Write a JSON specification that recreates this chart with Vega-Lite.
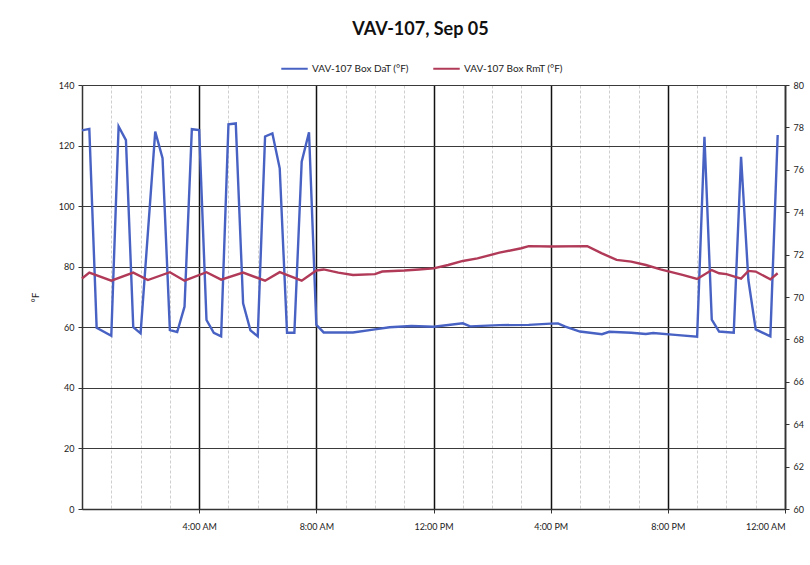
{
  "$schema": "https://vega.github.io/schema/vega-lite/v6.json",
  "autosize": "none",
  "width": 703,
  "height": 424,
  "padding": {"left": 82, "top": 85, "right": 25, "bottom": 56},
  "background": "white",
  "title": {
    "text": "VAV-107, Sep 05",
    "font": "Lato",
    "fontSize": 18,
    "fontWeight": "bold",
    "color": "#111",
    "anchor": "middle",
    "frame": "group",
    "dx": -13,
    "offset": 15
  },
  "datasets": {
    "dat": [
      {"time": "2012-09-05T00:00", "series": "VAV-107 Box DaT (°F)", "value": 125},
      {"time": "2012-09-05T00:15", "series": "VAV-107 Box DaT (°F)", "value": 125.5},
      {"time": "2012-09-05T00:30", "series": "VAV-107 Box DaT (°F)", "value": 59.8},
      {"time": "2012-09-05T01:00", "series": "VAV-107 Box DaT (°F)", "value": 57.2},
      {"time": "2012-09-05T01:15", "series": "VAV-107 Box DaT (°F)", "value": 126.3},
      {"time": "2012-09-05T01:30", "series": "VAV-107 Box DaT (°F)", "value": 121.8},
      {"time": "2012-09-05T01:45", "series": "VAV-107 Box DaT (°F)", "value": 60},
      {"time": "2012-09-05T02:00", "series": "VAV-107 Box DaT (°F)", "value": 58},
      {"time": "2012-09-05T02:30", "series": "VAV-107 Box DaT (°F)", "value": 124.6},
      {"time": "2012-09-05T02:45", "series": "VAV-107 Box DaT (°F)", "value": 115.8},
      {"time": "2012-09-05T03:00", "series": "VAV-107 Box DaT (°F)", "value": 59.1},
      {"time": "2012-09-05T03:15", "series": "VAV-107 Box DaT (°F)", "value": 58.4},
      {"time": "2012-09-05T03:30", "series": "VAV-107 Box DaT (°F)", "value": 66.8},
      {"time": "2012-09-05T03:45", "series": "VAV-107 Box DaT (°F)", "value": 125.4},
      {"time": "2012-09-05T04:00", "series": "VAV-107 Box DaT (°F)", "value": 125.1},
      {"time": "2012-09-05T04:15", "series": "VAV-107 Box DaT (°F)", "value": 62.4},
      {"time": "2012-09-05T04:30", "series": "VAV-107 Box DaT (°F)", "value": 58.2},
      {"time": "2012-09-05T04:45", "series": "VAV-107 Box DaT (°F)", "value": 57},
      {"time": "2012-09-05T05:00", "series": "VAV-107 Box DaT (°F)", "value": 127},
      {"time": "2012-09-05T05:15", "series": "VAV-107 Box DaT (°F)", "value": 127.3},
      {"time": "2012-09-05T05:30", "series": "VAV-107 Box DaT (°F)", "value": 67.9},
      {"time": "2012-09-05T05:45", "series": "VAV-107 Box DaT (°F)", "value": 59},
      {"time": "2012-09-05T06:00", "series": "VAV-107 Box DaT (°F)", "value": 57},
      {"time": "2012-09-05T06:15", "series": "VAV-107 Box DaT (°F)", "value": 123},
      {"time": "2012-09-05T06:30", "series": "VAV-107 Box DaT (°F)", "value": 124},
      {"time": "2012-09-05T06:45", "series": "VAV-107 Box DaT (°F)", "value": 112.5},
      {"time": "2012-09-05T07:00", "series": "VAV-107 Box DaT (°F)", "value": 58.2},
      {"time": "2012-09-05T07:15", "series": "VAV-107 Box DaT (°F)", "value": 58.2},
      {"time": "2012-09-05T07:30", "series": "VAV-107 Box DaT (°F)", "value": 114.7},
      {"time": "2012-09-05T07:45", "series": "VAV-107 Box DaT (°F)", "value": 124.4},
      {"time": "2012-09-05T08:00", "series": "VAV-107 Box DaT (°F)", "value": 60.8},
      {"time": "2012-09-05T08:15", "series": "VAV-107 Box DaT (°F)", "value": 58.3},
      {"time": "2012-09-05T09:15", "series": "VAV-107 Box DaT (°F)", "value": 58.3},
      {"time": "2012-09-05T10:00", "series": "VAV-107 Box DaT (°F)", "value": 59.3},
      {"time": "2012-09-05T10:30", "series": "VAV-107 Box DaT (°F)", "value": 60},
      {"time": "2012-09-05T11:15", "series": "VAV-107 Box DaT (°F)", "value": 60.4},
      {"time": "2012-09-05T12:00", "series": "VAV-107 Box DaT (°F)", "value": 60.2},
      {"time": "2012-09-05T13:00", "series": "VAV-107 Box DaT (°F)", "value": 61.3},
      {"time": "2012-09-05T13:15", "series": "VAV-107 Box DaT (°F)", "value": 60.3},
      {"time": "2012-09-05T14:15", "series": "VAV-107 Box DaT (°F)", "value": 60.7},
      {"time": "2012-09-05T15:15", "series": "VAV-107 Box DaT (°F)", "value": 60.8},
      {"time": "2012-09-05T16:00", "series": "VAV-107 Box DaT (°F)", "value": 61.2},
      {"time": "2012-09-05T16:15", "series": "VAV-107 Box DaT (°F)", "value": 61.3},
      {"time": "2012-09-05T16:30", "series": "VAV-107 Box DaT (°F)", "value": 60.2},
      {"time": "2012-09-05T17:00", "series": "VAV-107 Box DaT (°F)", "value": 58.6},
      {"time": "2012-09-05T17:45", "series": "VAV-107 Box DaT (°F)", "value": 57.7},
      {"time": "2012-09-05T18:00", "series": "VAV-107 Box DaT (°F)", "value": 58.5},
      {"time": "2012-09-05T18:45", "series": "VAV-107 Box DaT (°F)", "value": 58.2},
      {"time": "2012-09-05T19:15", "series": "VAV-107 Box DaT (°F)", "value": 57.8},
      {"time": "2012-09-05T19:30", "series": "VAV-107 Box DaT (°F)", "value": 58.1},
      {"time": "2012-09-05T20:15", "series": "VAV-107 Box DaT (°F)", "value": 57.5},
      {"time": "2012-09-05T21:00", "series": "VAV-107 Box DaT (°F)", "value": 56.9},
      {"time": "2012-09-05T21:15", "series": "VAV-107 Box DaT (°F)", "value": 122.9},
      {"time": "2012-09-05T21:30", "series": "VAV-107 Box DaT (°F)", "value": 62.5},
      {"time": "2012-09-05T21:45", "series": "VAV-107 Box DaT (°F)", "value": 58.6},
      {"time": "2012-09-05T22:15", "series": "VAV-107 Box DaT (°F)", "value": 58.2},
      {"time": "2012-09-05T22:30", "series": "VAV-107 Box DaT (°F)", "value": 116.3},
      {"time": "2012-09-05T22:45", "series": "VAV-107 Box DaT (°F)", "value": 75.6},
      {"time": "2012-09-05T23:00", "series": "VAV-107 Box DaT (°F)", "value": 59.3},
      {"time": "2012-09-05T23:30", "series": "VAV-107 Box DaT (°F)", "value": 57},
      {"time": "2012-09-05T23:45", "series": "VAV-107 Box DaT (°F)", "value": 123.5}
    ],
    "rmt": [
      {"time": "2012-09-05T00:00", "series": "VAV-107 Box RmT (°F)", "value": 70.87},
      {"time": "2012-09-05T00:15", "series": "VAV-107 Box RmT (°F)", "value": 71.15},
      {"time": "2012-09-05T01:00", "series": "VAV-107 Box RmT (°F)", "value": 70.77},
      {"time": "2012-09-05T01:45", "series": "VAV-107 Box RmT (°F)", "value": 71.15},
      {"time": "2012-09-05T02:15", "series": "VAV-107 Box RmT (°F)", "value": 70.8},
      {"time": "2012-09-05T03:00", "series": "VAV-107 Box RmT (°F)", "value": 71.17},
      {"time": "2012-09-05T03:30", "series": "VAV-107 Box RmT (°F)", "value": 70.77},
      {"time": "2012-09-05T04:15", "series": "VAV-107 Box RmT (°F)", "value": 71.17},
      {"time": "2012-09-05T04:45", "series": "VAV-107 Box RmT (°F)", "value": 70.82},
      {"time": "2012-09-05T05:30", "series": "VAV-107 Box RmT (°F)", "value": 71.15},
      {"time": "2012-09-05T06:15", "series": "VAV-107 Box RmT (°F)", "value": 70.77},
      {"time": "2012-09-05T06:45", "series": "VAV-107 Box RmT (°F)", "value": 71.17},
      {"time": "2012-09-05T07:30", "series": "VAV-107 Box RmT (°F)", "value": 70.77},
      {"time": "2012-09-05T08:00", "series": "VAV-107 Box RmT (°F)", "value": 71.25},
      {"time": "2012-09-05T08:15", "series": "VAV-107 Box RmT (°F)", "value": 71.3},
      {"time": "2012-09-05T08:45", "series": "VAV-107 Box RmT (°F)", "value": 71.15},
      {"time": "2012-09-05T09:15", "series": "VAV-107 Box RmT (°F)", "value": 71.04},
      {"time": "2012-09-05T10:00", "series": "VAV-107 Box RmT (°F)", "value": 71.08},
      {"time": "2012-09-05T10:15", "series": "VAV-107 Box RmT (°F)", "value": 71.2},
      {"time": "2012-09-05T11:00", "series": "VAV-107 Box RmT (°F)", "value": 71.25},
      {"time": "2012-09-05T11:30", "series": "VAV-107 Box RmT (°F)", "value": 71.3},
      {"time": "2012-09-05T12:00", "series": "VAV-107 Box RmT (°F)", "value": 71.35},
      {"time": "2012-09-05T12:30", "series": "VAV-107 Box RmT (°F)", "value": 71.51},
      {"time": "2012-09-05T13:00", "series": "VAV-107 Box RmT (°F)", "value": 71.7},
      {"time": "2012-09-05T13:30", "series": "VAV-107 Box RmT (°F)", "value": 71.82},
      {"time": "2012-09-05T14:15", "series": "VAV-107 Box RmT (°F)", "value": 72.09},
      {"time": "2012-09-05T15:00", "series": "VAV-107 Box RmT (°F)", "value": 72.3},
      {"time": "2012-09-05T15:15", "series": "VAV-107 Box RmT (°F)", "value": 72.4},
      {"time": "2012-09-05T16:00", "series": "VAV-107 Box RmT (°F)", "value": 72.38},
      {"time": "2012-09-05T17:15", "series": "VAV-107 Box RmT (°F)", "value": 72.4},
      {"time": "2012-09-05T17:45", "series": "VAV-107 Box RmT (°F)", "value": 72.06},
      {"time": "2012-09-05T18:15", "series": "VAV-107 Box RmT (°F)", "value": 71.75},
      {"time": "2012-09-05T18:45", "series": "VAV-107 Box RmT (°F)", "value": 71.67},
      {"time": "2012-09-05T19:15", "series": "VAV-107 Box RmT (°F)", "value": 71.51},
      {"time": "2012-09-05T19:45", "series": "VAV-107 Box RmT (°F)", "value": 71.3},
      {"time": "2012-09-05T20:30", "series": "VAV-107 Box RmT (°F)", "value": 71.04},
      {"time": "2012-09-05T21:00", "series": "VAV-107 Box RmT (°F)", "value": 70.85},
      {"time": "2012-09-05T21:30", "series": "VAV-107 Box RmT (°F)", "value": 71.27},
      {"time": "2012-09-05T21:45", "series": "VAV-107 Box RmT (°F)", "value": 71.12},
      {"time": "2012-09-05T22:00", "series": "VAV-107 Box RmT (°F)", "value": 71.08},
      {"time": "2012-09-05T22:30", "series": "VAV-107 Box RmT (°F)", "value": 70.87},
      {"time": "2012-09-05T22:45", "series": "VAV-107 Box RmT (°F)", "value": 71.23},
      {"time": "2012-09-05T23:00", "series": "VAV-107 Box RmT (°F)", "value": 71.2},
      {"time": "2012-09-05T23:30", "series": "VAV-107 Box RmT (°F)", "value": 70.83},
      {"time": "2012-09-05T23:45", "series": "VAV-107 Box RmT (°F)", "value": 71.12}
    ]
  },
  "config": {
    "font": "Lato",
    "view": {"stroke": null},
    "axis": {
      "labelFont": "Lato",
      "labelFontSize": 9,
      "labelColor": "#222",
      "domainColor": "#333",
      "tickColor": "#333"
    }
  },
  "layer": [
    {
      "data": {"name": "dat"},
      "mark": {"type": "line", "strokeWidth": 2.4, "interpolate": "linear"},
      "encoding": {
        "x": {
          "field": "time",
          "type": "temporal",
          "scale": {"domain": [{"year": 2012, "month": 9, "date": 5, "hours": 0}, {"year": 2012, "month": 9, "date": 6, "hours": 0}]},
          "axis": {
            "orient": "bottom",
            "title": null,
            "labels": false,
            "ticks": false,
            "domain": false,
            "grid": true,
            "gridColor": "#cfcfcf",
            "gridWidth": 1,
            "gridDash": [3, 2],
            "values": [
              {"year": 2012, "month": 9, "date": 5, "hours": 1},
              {"year": 2012, "month": 9, "date": 5, "hours": 2},
              {"year": 2012, "month": 9, "date": 5, "hours": 3},
              {"year": 2012, "month": 9, "date": 5, "hours": 5},
              {"year": 2012, "month": 9, "date": 5, "hours": 6},
              {"year": 2012, "month": 9, "date": 5, "hours": 7},
              {"year": 2012, "month": 9, "date": 5, "hours": 9},
              {"year": 2012, "month": 9, "date": 5, "hours": 10},
              {"year": 2012, "month": 9, "date": 5, "hours": 11},
              {"year": 2012, "month": 9, "date": 5, "hours": 13},
              {"year": 2012, "month": 9, "date": 5, "hours": 14},
              {"year": 2012, "month": 9, "date": 5, "hours": 15},
              {"year": 2012, "month": 9, "date": 5, "hours": 17},
              {"year": 2012, "month": 9, "date": 5, "hours": 18},
              {"year": 2012, "month": 9, "date": 5, "hours": 19},
              {"year": 2012, "month": 9, "date": 5, "hours": 21},
              {"year": 2012, "month": 9, "date": 5, "hours": 22},
              {"year": 2012, "month": 9, "date": 5, "hours": 23}
            ]
          }
        },
        "y": {
          "field": "value",
          "type": "quantitative",
          "scale": {"domain": [0, 140], "nice": false, "zero": false},
          "axis": {
            "orient": "left",
            "title": "°F",
            "titleFont": "Lato",
            "titleFontSize": 10,
            "titleFontWeight": "normal",
            "titleColor": "#222",
            "titlePadding": 18,
            "values": [0, 20, 40, 60, 80, 100, 120, 140],
            "grid": true,
            "gridColor": "#3a3a3a",
            "gridWidth": 1,
            "tickSize": 4,
            "labelPadding": 4,
            "domainWidth": 1.5
          }
        },
        "color": {
          "field": "series",
          "type": "nominal",
          "scale": {"domain": ["VAV-107 Box DaT (°F)", "VAV-107 Box RmT (°F)"], "range": ["#4862c4", "#b03a58"]},
          "legend": {
            "orient": "none",
            "direction": "horizontal",
            "legendX": 198,
            "legendY": -31,
            "title": null,
            "symbolType": "stroke",
            "symbolSize": 700,
            "symbolStrokeWidth": 2,
            "labelFont": "Lato",
            "labelFontSize": 10,
            "labelColor": "#222",
            "columnPadding": 20,
            "labelOffset": 3
          }
        }
      }
    },
    {
      "data": {"name": "rmt"},
      "mark": {"type": "line", "strokeWidth": 2.4, "interpolate": "linear"},
      "encoding": {
        "x": {
          "field": "time",
          "type": "temporal",
          "axis": {
            "orient": "bottom",
            "title": null,
            "format": "%-I:%M %p",
            "grid": true,
            "gridColor": "#111",
            "gridWidth": 1.5,
            "domainWidth": 1.5,
            "tickSize": 4,
            "labelPadding": 9,
            "values": [
              {"year": 2012, "month": 9, "date": 5, "hours": 4},
              {"year": 2012, "month": 9, "date": 5, "hours": 8},
              {"year": 2012, "month": 9, "date": 5, "hours": 12},
              {"year": 2012, "month": 9, "date": 5, "hours": 16},
              {"year": 2012, "month": 9, "date": 5, "hours": 20},
              {"year": 2012, "month": 9, "date": 6, "hours": 0}
            ]
          }
        },
        "y": {
          "field": "value",
          "type": "quantitative",
          "scale": {"domain": [60, 80], "nice": false, "zero": false},
          "axis": {
            "orient": "right",
            "title": null,
            "values": [60, 62, 64, 66, 68, 70, 72, 74, 76, 78, 80],
            "grid": false,
            "tickSize": 4,
            "labelPadding": 4,
            "domainWidth": 1.5
          }
        },
        "color": {"field": "series", "type": "nominal"}
      }
    }
  ],
  "resolve": {"scale": {"y": "independent"}, "axis": {"x": "independent"}}
}
